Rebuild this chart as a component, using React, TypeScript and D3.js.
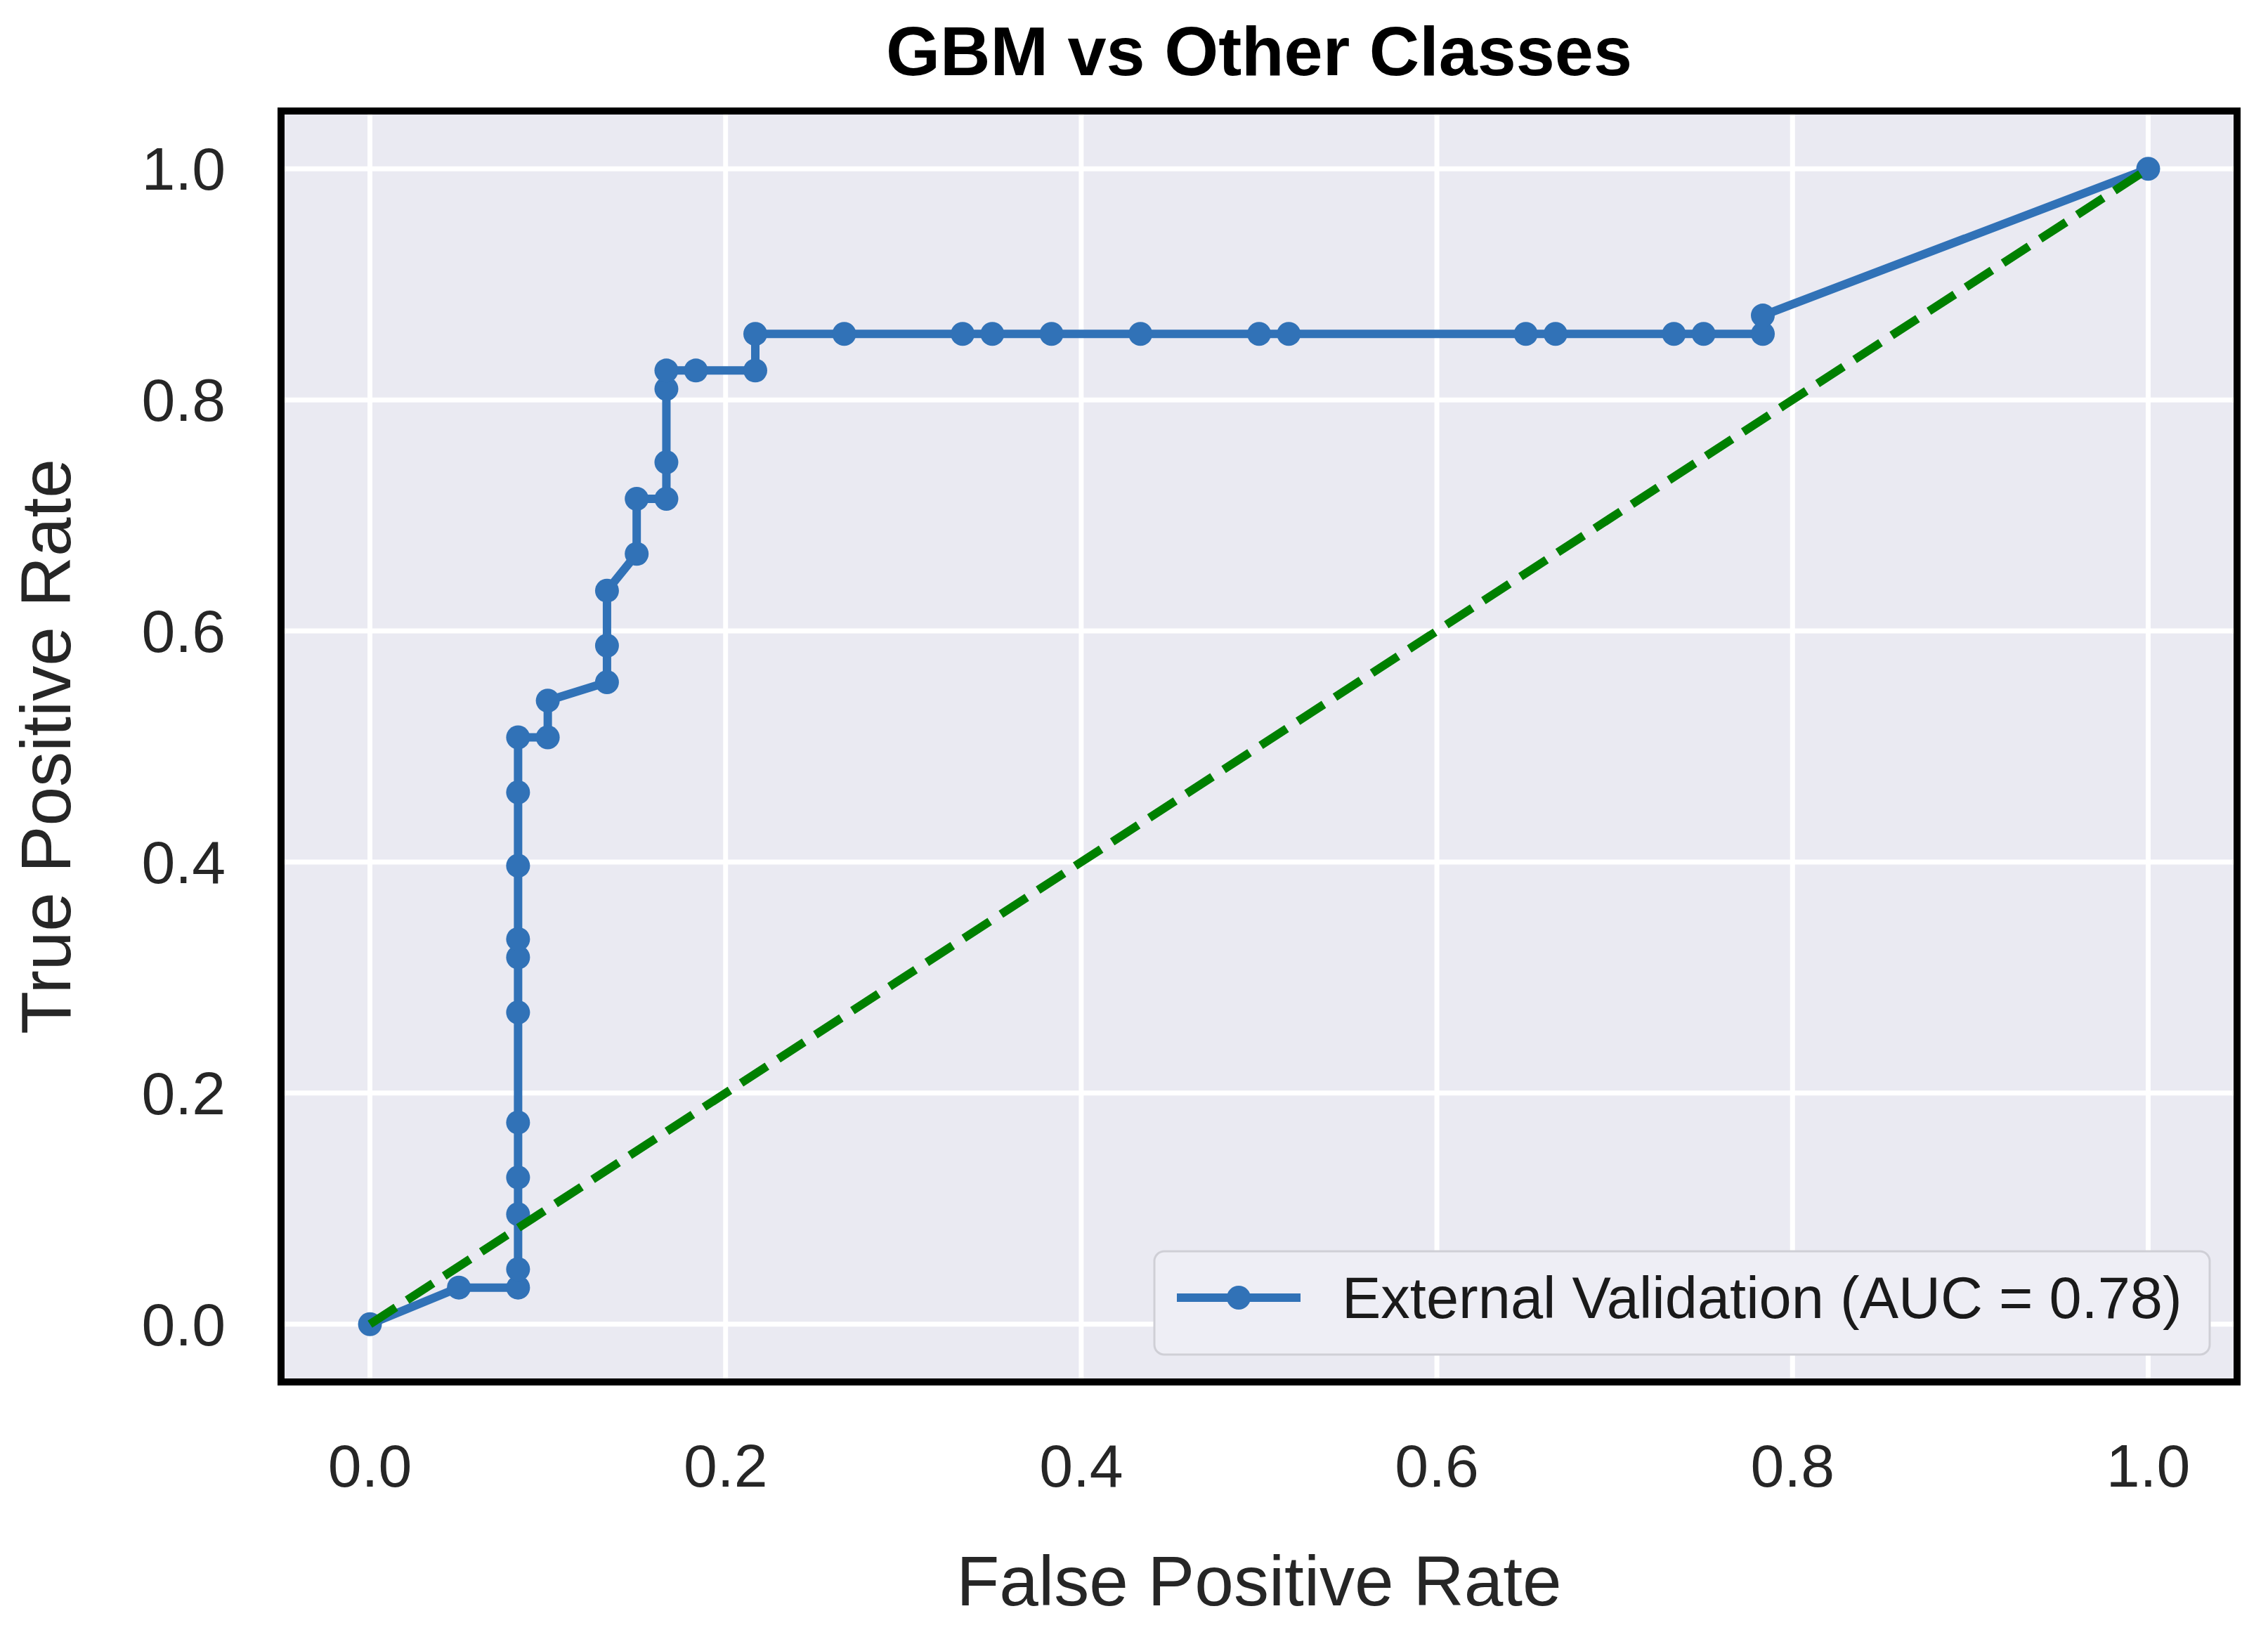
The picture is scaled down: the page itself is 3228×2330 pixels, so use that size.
import { useMemo } from "react";
import * as d3 from "d3";

// ROC points (FPR / TPR)
const fpr = [
    0, 0.05,
    0.0833, 0.0833, 0.0833, 0.0833, 0.0833, 0.0833, 0.0833, 0.0833, 0.0833, 0.0833, 0.0833,
    0.1, 0.1,
    0.1333, 0.1333, 0.1333,
    0.15, 0.15,
    0.1667, 0.1667, 0.1667, 0.1667,
    0.1833,
    0.2167, 0.2167,
    0.2667, 0.3333, 0.35, 0.3833, 0.4333, 0.5, 0.5167, 0.65, 0.6667, 0.7333, 0.75, 0.7833,
    0.7833,
    1.0,
];
const tpr = [
    0, 0.0317,
    0.0317, 0.0476, 0.0952, 0.127, 0.1746, 0.2698, 0.3175, 0.3333, 0.3968, 0.4603, 0.5079,
    0.5079, 0.5397,
    0.5556, 0.5873, 0.6349,
    0.6667, 0.7143,
    0.7143, 0.746, 0.8095, 0.8254,
    0.8254,
    0.8254, 0.8571,
    0.8571, 0.8571, 0.8571, 0.8571, 0.8571, 0.8571, 0.8571, 0.8571, 0.8571, 0.8571, 0.8571, 0.8571,
    0.873,
    1.0,
];
const chanceLine = [0, 1];
const xTicks = [0, 0.2, 0.4, 0.6, 0.8, 1.0];
const yTicks = [0, 0.2, 0.4, 0.6, 0.8, 1.0];
const title = "GBM vs Other Classes";
const xLabel = "False Positive Rate";
const yLabel = "True Positive Rate";
const legendLabel = "External Validation (AUC = 0.78)";

const W = 3228;
const H = 2330;
const margin = { top: 158, right: W - 3184, bottom: H - 1967, left: 400 };
const blue = "#3172b7";
const font = "'Liberation Sans', Arial, sans-serif";

export default function App() {
    const wG = W - margin.left - margin.right;
    const hG = H - margin.top - margin.bottom;

    const xScale = useMemo(() => d3.scaleLinear().domain([-0.05, 1.05]).range([0, wG]), [wG]);
    const yScale = useMemo(() => d3.scaleLinear().domain([-0.05, 1.05]).range([hG, 0]), [hG]);

    const points: [number, number][] = fpr.map((f, i) => [f, tpr[i]]);
    const line = d3.line<[number, number]>()
        .x(d => xScale(d[0]))
        .y(d => yScale(d[1]));
    const chance: [number, number][] = chanceLine.map(v => [v, v]);

    // legend box
    const lg = { x: 1643 - margin.left, y: 1781 - margin.top, w: 1502, h: 147 };

    return (
        <svg width={W} height={H} style={{ position: "absolute", left: 0, top: 0, background: "white" }}>
            <text x={margin.left + wG / 2} y={107} textAnchor="middle"
                style={{ fontFamily: font, fontSize: 99, fontWeight: "bold" }}>{title}</text>
            <g transform={`translate(${margin.left},${margin.top})`}>
                <rect width={wG} height={hG} fill="#eaeaf2" />
                {xTicks.map(t => (
                    <line key={'gx' + t} x1={xScale(t)} x2={xScale(t)} y1={0} y2={hG} stroke="white" strokeWidth={7} />
                ))}
                {yTicks.map(t => (
                    <line key={'gy' + t} x1={0} x2={wG} y1={yScale(t)} y2={yScale(t)} stroke="white" strokeWidth={7} />
                ))}

                <path d={line(points) ?? ''} fill="none" stroke={blue} strokeWidth={12} strokeLinejoin="round" />
                {points.map((p, i) => (
                    <circle key={i} cx={xScale(p[0])} cy={yScale(p[1])} r={17} fill={blue} />
                ))}
                <path d={line(chance) ?? ''} fill="none" stroke="#008000" strokeWidth={12} strokeDasharray="44 19" />

                {/* legend */}
                <rect x={lg.x} y={lg.y} width={lg.w} height={lg.h} rx={14} fill="#eeeef5" stroke="#cfcfd6" strokeWidth={3} />
                <line x1={1675 - margin.left} x2={1851 - margin.left} y1={1847 - margin.top} y2={1847 - margin.top}
                    stroke={blue} strokeWidth={12} />
                <circle cx={1763 - margin.left} cy={1847 - margin.top} r={17} fill={blue} />
                <text x={1910 - margin.left} y={1876 - margin.top}
                    style={{ fontFamily: font, fontSize: 83, fill: "#1a1a1a" }}>{legendLabel}</text>

                <rect width={wG} height={hG} fill="none" stroke="black" strokeWidth={10} />

                {xTicks.map(t => (
                    <text key={'tx' + t} x={xScale(t)} y={2116 - margin.top} textAnchor="middle"
                        style={{ fontFamily: font, fontSize: 86, fill: "#262626" }}>{t.toFixed(1)}</text>
                ))}
                {yTicks.map(t => (
                    <text key={'ty' + t} x={321 - margin.left} y={yScale(t)} dy="0.35em" textAnchor="end"
                        style={{ fontFamily: font, fontSize: 86, fill: "#262626" }}>{t.toFixed(1)}</text>
                ))}
            </g>
            <text x={margin.left + wG / 2} y={2285} textAnchor="middle"
                style={{ fontFamily: font, fontSize: 100, fill: "#262626" }}>{xLabel}</text>
            <text transform={`translate(100,${margin.top + hG / 2}) rotate(-90)`} textAnchor="middle"
                style={{ fontFamily: font, fontSize: 100, fill: "#262626" }}>{yLabel}</text>
        </svg>
    );
}
